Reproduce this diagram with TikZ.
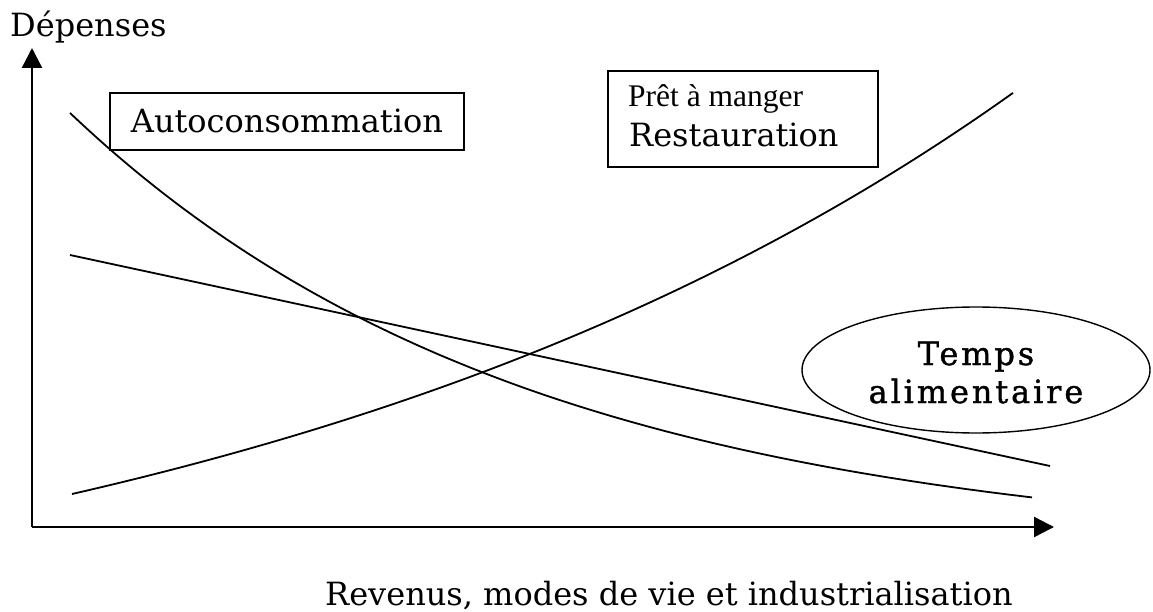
\documentclass[tikz,border=0pt]{standalone}
\usepackage{fontspec}
\setmainfont{DejaVu Serif}
\newfontfamily\timesf{Liberation Serif}
\newfontfamily\tempsf[LetterSpace=9,FakeBold=1.2]{DejaVu Serif}
\usetikzlibrary{arrows.meta,shapes.geometric}
\tikzset{
  big/.style={font=\fontsize{32}{38}\selectfont, inner sep=0pt},
  axis/.style={line width=2.4pt, -{Triangle[length=20pt,width=20pt]}},
  curve/.style={line width=1.8pt},
  boxed/.style={draw, line width=1.8pt},
}
\begin{document}
\begin{tikzpicture}[x=1pt,y=-1pt]
\useasboundingbox (0,0) rectangle (1153,612);
% axes
\coordinate (O) at (32,527);
\coordinate (ytip) at (32,48);
\coordinate (xtip) at (1054,527);
\draw[axis] (O) -- (ytip);
\draw[axis] (O) -- (xtip);
\node[big, anchor=base west] (ylab) at (10,37) {Dépenses};
\node[big, anchor=base west] (xlab) at (325,605) {Revenus, modes de vie et industrialisation};
% curves
\draw[curve] plot[domain=70:1032, samples=120, smooth] (\x, {552-439*exp(-0.00216*(\x-70))});
\draw[curve] plot[domain=72:1013, samples=120, smooth] (\x, {684.2-190.2*exp(0.00121*(\x-72))});
\coordinate (ls) at (70,255);
\coordinate (le) at (1050,466);
\draw[curve] (ls) -- (le);
% boxes
\node[boxed, big, fill=white, inner xsep=21pt, minimum height=57pt, anchor=north west] (auto) at (109,92) {Autoconsommation};
\node[boxed, fill=white, minimum width=270pt, minimum height=96pt, anchor=north west] (rbox) at (607,70) {};
\node[inner sep=0pt, anchor=base west, font=\timesf\fontsize{31.5}{36}\selectfont] (pret) at (628,107) {Prêt à manger};
\node[big, anchor=base west] (resto) at (629,147) {Restauration};
% ellipse
\node[ellipse, draw, line width=1.4pt, minimum width=348pt, minimum height=126pt] (tbox) at (976,370) {};
\node[big, font=\tempsf\fontsize{32}{38}\selectfont, anchor=base] (temps) at (976,365) {Temps};
\node[big, font=\tempsf\fontsize{32}{38}\selectfont, anchor=base] (alim) at (976,403) {alimentaire};
\end{tikzpicture}
\end{document}
